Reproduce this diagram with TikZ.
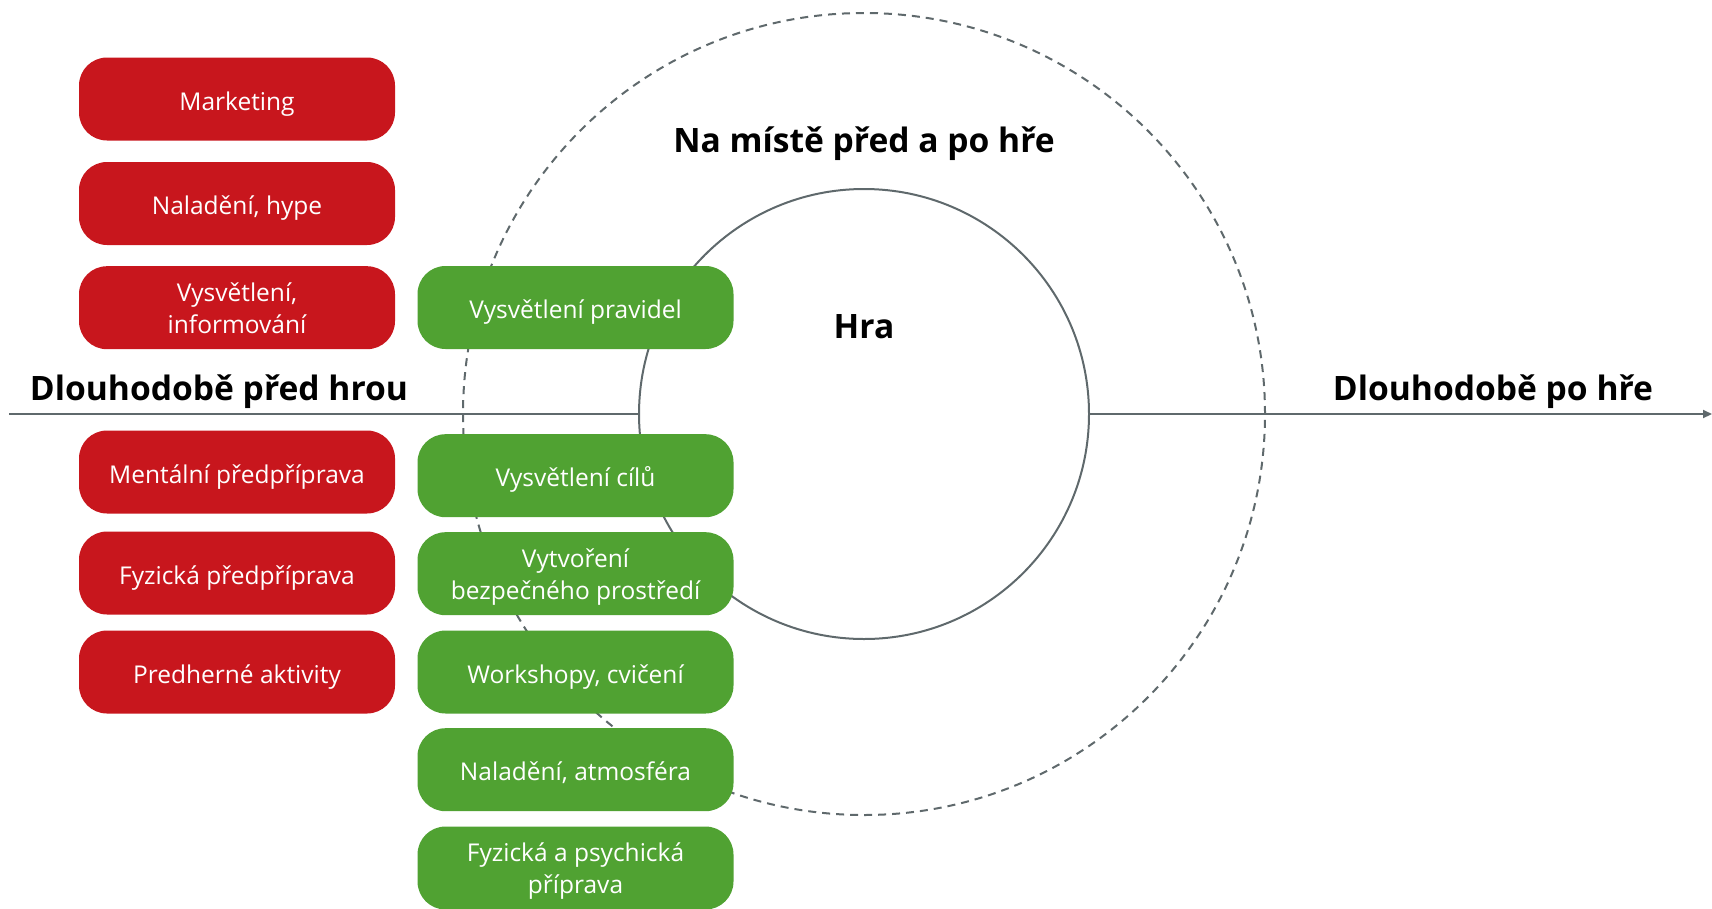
\documentclass[tikz,border=0pt]{standalone}
\usepackage{fontspec}
\setmainfont{Open Sans}
\usetikzlibrary{arrows.meta}
\definecolor{boxred}{RGB}{200,22,29}
\definecolor{boxgreen}{RGB}{80,162,50}
\definecolor{linegray}{RGB}{95,105,108}
\begin{document}
\begin{tikzpicture}[x=1pt,y=-1pt,
  redbox/.style={fill=boxred, text=white, rounded corners=28pt, minimum width=316pt, minimum height=83pt, font=\fontsize{24.5}{32}\selectfont, inner sep=0pt, text height=22pt, text depth=0pt},
  greenbox/.style={redbox, fill=boxgreen},
  twoline/.style={text height=0pt, text depth=13pt},
  title/.style={font=\fontsize{33.6}{38}\selectfont\bfseries, text=black, anchor=base},
  conn/.style={draw=linegray, line width=2pt}]
\useasboundingbox (0,0) rectangle (1712,908);
\node[circle, draw=linegray, line width=2pt, dash pattern=on 8pt off 6pt, minimum size=802pt, inner sep=0pt] (outer) at (864,414) {};
\node[circle, draw=linegray, line width=2pt, minimum size=450pt, inner sep=0pt] (inner) at (864,414) {};
\coordinate (start) at (9,414);
\coordinate (end) at (1712,414);
\draw[conn] (start) -- (inner.west);
\draw[conn, -{Triangle[length=9pt,width=8pt]}] (inner.east) -- (end);

\node[title] (pre) at (219,400) {Dlouhodobě před hrou};
\node[title] (post) at (1493,400) {Dlouhodobě po hře};
\node[title] (site) at (864,152) {Na místě před a po hře};
\node[title] (hra) at (864,338) {Hra};

\node[redbox] (r1) at (237,99) {Marketing};
\node[redbox] (r2) at (237,203.5) {Naladění, hype};
\node[redbox, twoline] (r3) at (237,307.7) {\begin{tabular}[t]{@{}c@{}}Vysvětlení,\\informování\end{tabular}};
\node[redbox] (r4) at (237,472) {Mentální předpříprava};
\node[redbox] (r5) at (237,573) {Fyzická předpříprava};
\node[redbox] (r6) at (237,672) {Predherné aktivity};

\node[greenbox] (g1) at (575.5,307.5) {Vysvětlení pravidel};
\node[greenbox] (g2) at (575.5,475.7) {Vysvětlení cílů};
\node[greenbox, twoline] (g3) at (575.5,573.7) {\begin{tabular}[t]{@{}c@{}}Vytvoření\\bezpečného prostředí\end{tabular}};
\node[greenbox] (g4) at (575.5,672) {Workshopy, cvičení};
\node[greenbox] (g5) at (575.5,769.7) {Naladění, atmosféra};
\node[greenbox, twoline] (g6) at (575.5,868) {\begin{tabular}[t]{@{}c@{}}Fyzická a psychická\\příprava\end{tabular}};
\end{tikzpicture}
\end{document}
